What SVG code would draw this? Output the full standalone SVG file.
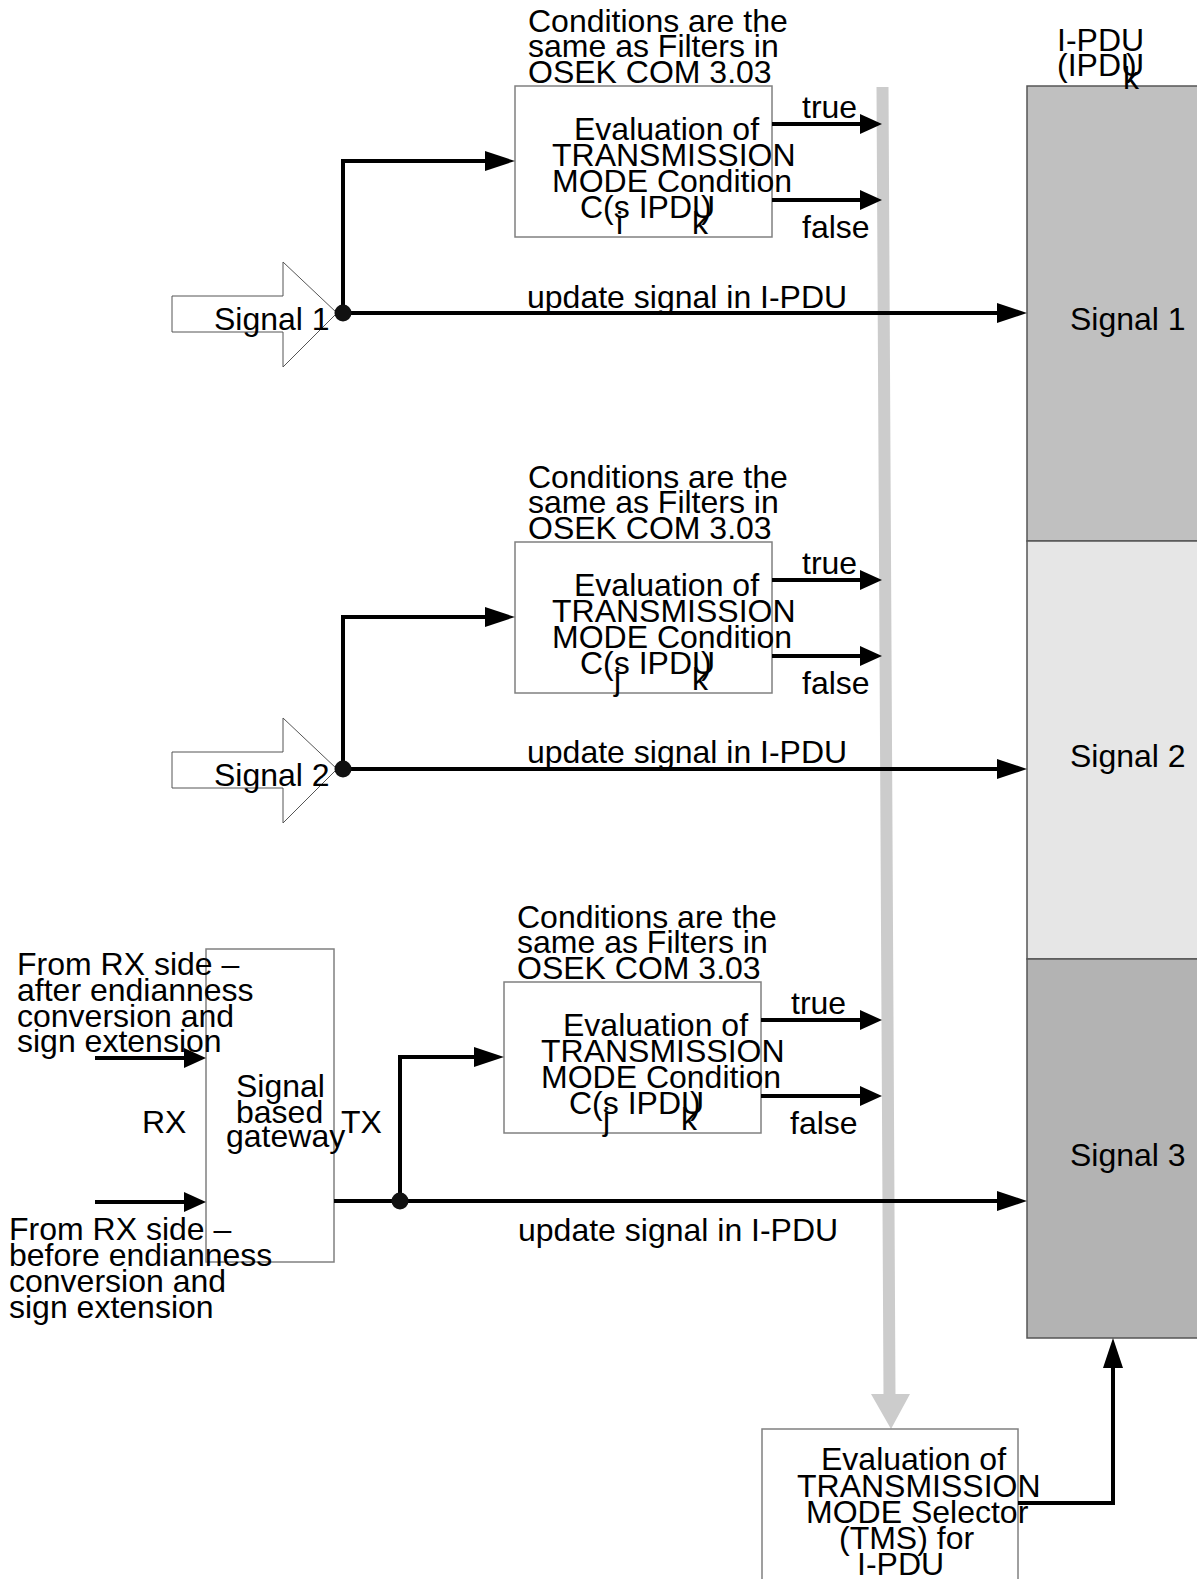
<svg xmlns="http://www.w3.org/2000/svg" width="1197" height="1579" viewBox="0 0 1197 1579">
<defs>
<style>
text{font-family:"Liberation Sans",Arial,sans-serif;font-size:32px;fill:#000}
.box{fill:#fff;stroke:#808080;stroke-width:1.5}
.barrow{fill:#fff;stroke:#555;stroke-width:1}
.ln{fill:none;stroke:#000;stroke-width:4}
.seg{stroke:#555;stroke-width:1.5}
.dot{fill:#111}
</style>
<marker id="ab" markerUnits="userSpaceOnUse" markerWidth="30" markerHeight="20" refX="20" refY="10" orient="auto"><path d="M0,0L30,10L0,20z" fill="#000"/></marker>
<marker id="as" markerUnits="userSpaceOnUse" markerWidth="22" markerHeight="20" refX="12" refY="10" orient="auto"><path d="M0,0L22,10L0,20z" fill="#000"/></marker>
</defs>
<rect x="0" y="0" width="1197" height="1579" fill="#fff"/>

<g id="ipdu">
<rect class="seg" x="1027" y="86" width="180" height="455" fill="#c0c0c0"/>
<rect class="seg" x="1027" y="541" width="180" height="418" fill="#e6e6e6"/>
<rect class="seg" x="1027" y="959" width="180" height="379" fill="#b3b3b3"/>
<text x="1057" y="51">I-PDU</text>
<text x="1057" y="76">(IPDU</text>
<text x="1126" y="76">)</text>
<text x="1123" y="89">k</text>
<text x="1070" y="330">Signal 1</text>
<text x="1070" y="767">Signal 2</text>
<text x="1070" y="1166">Signal 3</text>
</g>

<g id="flowbar">
<polygon points="876.5,87 888.5,87 895.5,1394 910,1394 891,1429 871,1394 883.5,1394" fill="#cccccc"/>
</g>

<g id="note1">
<text x="528" y="32">Conditions are the</text>
<text x="528" y="57">same as Filters in</text>
<text x="528" y="83">OSEK COM 3.03</text>
</g>
<g id="cond1">
<rect class="box" x="515" y="86" width="257" height="151"/>
<text x="574" y="140">Evaluation of</text>
<text x="552" y="166">TRANSMISSION</text>
<text x="552" y="192">MODE Condition</text>
<text x="580" y="218">C(s IPDU</text>
<text x="701" y="218">)</text>
<text x="616" y="234">i</text>
<text x="692" y="234">k</text>
</g>
<g id="signal1">
<polygon class="barrow" points="172,296 283,296 283,262 337,313 283,367 283,332 172,332"/>
<text x="214" y="330">Signal 1</text>
</g>

<g id="note2">
<text x="528" y="488">Conditions are the</text>
<text x="528" y="513">same as Filters in</text>
<text x="528" y="539">OSEK COM 3.03</text>
</g>
<g id="cond2">
<rect class="box" x="515" y="542" width="257" height="151"/>
<text x="574" y="596">Evaluation of</text>
<text x="552" y="622">TRANSMISSION</text>
<text x="552" y="648">MODE Condition</text>
<text x="580" y="674">C(s IPDU</text>
<text x="701" y="674">)</text>
<text x="614" y="690">j</text>
<text x="692" y="690">k</text>
</g>
<g id="signal2">
<polygon class="barrow" points="172,752 283,752 283,718 337,769 283,823 283,788 172,788"/>
<text x="214" y="786">Signal 2</text>
</g>

<g id="note3">
<text x="517" y="928">Conditions are the</text>
<text x="517" y="953">same as Filters in</text>
<text x="517" y="979">OSEK COM 3.03</text>
</g>
<g id="cond3">
<rect class="box" x="504" y="982" width="257" height="151"/>
<text x="563" y="1036">Evaluation of</text>
<text x="541" y="1062">TRANSMISSION</text>
<text x="541" y="1088">MODE Condition</text>
<text x="569" y="1114">C(s IPDU</text>
<text x="690" y="1114">)</text>
<text x="603" y="1130">j</text>
<text x="681" y="1130">k</text>
</g>
<g id="gateway">
<rect class="box" x="206" y="949" width="128" height="313"/>
<text x="236" y="1097">Signal</text>
<text x="236" y="1123">based</text>
<text x="226" y="1147">gateway</text>
<text x="341" y="1133">TX</text>
<text x="142" y="1133">RX</text>
</g>
<g id="rx-after">
<text x="17" y="975">From RX side –</text>
<text x="17" y="1001">after endianness</text>
<text x="17" y="1027">conversion and</text>
<text x="17" y="1052">sign extension</text>
</g>
<g id="rx-before">
<text x="9" y="1240">From RX side –</text>
<text x="9" y="1266">before endianness</text>
<text x="9" y="1292">conversion and</text>
<text x="9" y="1318">sign extension</text>
</g>

<g id="tms">
<rect class="box" x="762" y="1429" width="256" height="200"/>
<text x="821" y="1470">Evaluation of</text>
<text x="797" y="1497">TRANSMISSION</text>
<text x="806" y="1523">MODE Selector</text>
<text x="839" y="1549">(TMS) for</text>
<text x="857" y="1575">I-PDU</text>
</g>

<g id="connectors">
<path class="ln" d="M343,313V161H505" marker-end="url(#ab)"/>
<path class="ln" d="M343,313H1017" marker-end="url(#ab)"/>
<path class="ln" d="M772,124H872" marker-end="url(#as)"/>
<path class="ln" d="M772,200H872" marker-end="url(#as)"/>
<circle class="dot" cx="343" cy="313" r="8.5"/>
<text x="527" y="308">update signal in I-PDU</text>
<text x="802" y="118">true</text>
<text x="802" y="238">false</text>

<path class="ln" d="M343,769V617H505" marker-end="url(#ab)"/>
<path class="ln" d="M343,769H1017" marker-end="url(#ab)"/>
<path class="ln" d="M772,580H872" marker-end="url(#as)"/>
<path class="ln" d="M772,656H872" marker-end="url(#as)"/>
<circle class="dot" cx="343" cy="769" r="8.5"/>
<text x="527" y="763">update signal in I-PDU</text>
<text x="802" y="574">true</text>
<text x="802" y="694">false</text>

<path class="ln" d="M400,1201V1057H494" marker-end="url(#ab)"/>
<path class="ln" d="M334,1201H1017" marker-end="url(#ab)"/>
<path class="ln" d="M761,1020H872" marker-end="url(#as)"/>
<path class="ln" d="M761,1096H872" marker-end="url(#as)"/>
<path class="ln" d="M95,1058H196" marker-end="url(#as)"/>
<path class="ln" d="M95,1202H196" marker-end="url(#as)"/>
<circle class="dot" cx="400" cy="1201" r="8.5"/>
<text x="518" y="1241">update signal in I-PDU</text>
<text x="791" y="1014">true</text>
<text x="790" y="1134">false</text>

<path class="ln" d="M1018,1503H1113V1348" marker-end="url(#ab)"/>
</g>
</svg>
